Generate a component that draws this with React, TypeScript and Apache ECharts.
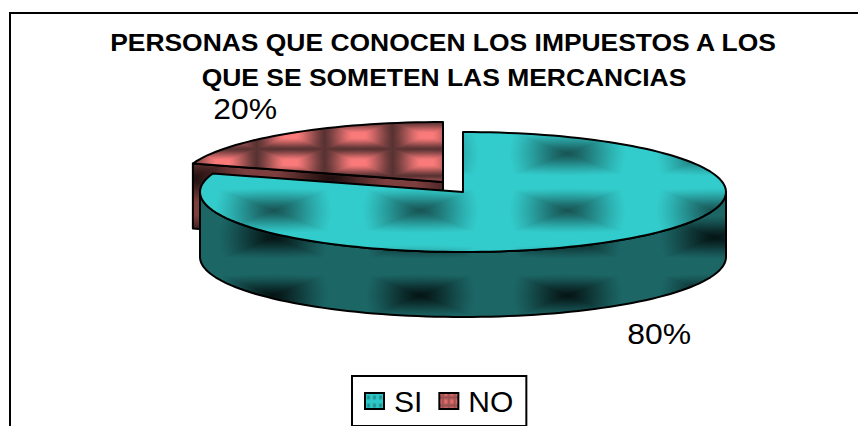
import React, { useEffect, useRef } from "react";
import * as echarts from "echarts";

const titleLines = ["PERSONAS QUE CONOCEN LOS IMPUESTOS A LOS", "QUE SE SOMETEN LAS MERCANCIAS"];
const categories = ["SI", "NO"];
const values = [80, 20];

type RGB = [number, number, number];

function tile(
  w: number, h: number, ox: number, oy: number,
  dark: RGB, bright: RGB, reach: number, inverted: boolean
) {
  const c = document.createElement("canvas");
  c.width = w;
  c.height = h;
  const ctx = c.getContext("2d")!;
  const img = ctx.createImageData(w, h);
  for (let y = 0; y < h; y++) {
    for (let x = 0; x < w; x++) {
      let dx = Math.abs(x - ox);
      let dy = Math.abs(y - oy);
      dx = Math.min(dx, w - dx);
      dy = Math.min(dy, h - dy);
      const nx = dx / (w / 2);
      const ny = dy / (h / 2);
      const v = 0.8 * Math.max(nx, ny) + 0.2 * Math.min(1, Math.hypot(nx, ny));
      const s = inverted ? Math.min(1, (1 - v) / reach) : Math.min(1, v / reach);
      const t = 0.7 * s + 0.3 * s * s * (3 - 2 * s);
      const i = (y * w + x) * 4;
      img.data[i] = dark[0] + (bright[0] - dark[0]) * t;
      img.data[i + 1] = dark[1] + (bright[1] - dark[1]) * t;
      img.data[i + 2] = dark[2] + (bright[2] - dark[2]) * t;
      img.data[i + 3] = 255;
    }
  }
  ctx.putImageData(img, 0, 0);
  return { image: c.toDataURL(), imageWidth: w, imageHeight: h, repeat: "repeat" } as any;
}

const CX = 463;
const CY = 192;
const RX = 263;
const RY = 60;
const DEPTH = 65;
const EXPLODE_X = -20;
const EXPLODE_Y = -10;
const FONT = "'Liberation Sans', Arial, sans-serif";

function arcPts(cx: number, cy: number, a0: number, a1: number) {
  const out: number[][] = [];
  const n = Math.max(2, Math.ceil(Math.abs(a1 - a0) / 2));
  for (let i = 0; i <= n; i++) {
    const a = ((a0 + ((a1 - a0) * i) / n) * Math.PI) / 180;
    out.push([cx + RX * Math.sin(a), cy - RY * Math.cos(a)]);
  }
  return out;
}

export default function App() {
  const ref = useRef<HTMLDivElement>(null);
  useEffect(() => {
    document.body.style.margin = "0";
    const chart = echarts.init(ref.current!, null, { renderer: "svg" });

    const tealTop = tile(147, 57, 126, 39, [24, 84, 84], [51, 204, 204], 0.8, false);
    const tealSide = tile(147, 58, 126, 5, [5, 20, 20], [28, 102, 102], 0.75, false);
    const redTop = tile(68, 27, 18, 0, [88, 50, 50], [250, 122, 122], 0.8, true);
    const redSide = tile(140, 60, 50, 58, [30, 14, 14], [125, 62, 62], 0.8, false);
    const tealKey = tile(6, 8, 3, 4, [30, 130, 130], [45, 200, 200], 0.8, false);
    const redKey = tile(6, 8, 0, 0, [150, 80, 80], [235, 110, 110], 0.8, true);

    const total = values.reduce((a, b) => a + b, 0);
    const siEnd = (values[0] / total) * 360;

    const outline = { stroke: "#000", lineWidth: 2, lineJoin: "round" };

    const renderSI = (_: any, api: any) => {
      const top = [[CX, CY], ...arcPts(CX, CY, 0, siEnd)];
      const front = arcPts(CX, CY, 90, 270);
      const wall = [
        ...front,
        ...front.slice().reverse().map((p) => [p[0], p[1] + DEPTH]),
      ];
      return {
        type: "group",
        children: [
          { type: "polygon", shape: { points: wall }, style: { fill: tealSide, ...outline } },
          { type: "polygon", shape: { points: top }, style: { fill: tealTop, ...outline } },
          {
            type: "text", x: 691, y: 348, scaleX: 1.1,
            style: { text: `${api.value(0)}%`, fontSize: 29, fontFamily: FONT, fill: "#000", align: "right", verticalAlign: "bottom" },
          },
        ],
      };
    };

    const renderNO = (_: any, api: any) => {
      const cx = CX + EXPLODE_X;
      const cy = CY + EXPLODE_Y;
      const top = [[cx, cy], ...arcPts(cx, cy, siEnd, 360)];
      const left = arcPts(cx, cy, siEnd, siEnd)[0];
      const wall = [left, [cx, cy], [cx, cy + DEPTH], [left[0], left[1] + DEPTH]];
      return {
        type: "group",
        children: [
          { type: "polygon", shape: { points: wall }, style: { fill: redSide, ...outline } },
          { type: "polygon", shape: { points: top }, style: { fill: redTop, ...outline } },
          {
            type: "text", x: 277, y: 123, scaleX: 1.1,
            style: { text: `${api.value(0)}%`, fontSize: 29, fontFamily: FONT, fill: "#000", align: "right", verticalAlign: "bottom" },
          },
        ],
      };
    };

    chart.setOption({
      animation: false,
      backgroundColor: "#fff",
      legend: {
        data: [
          { name: categories[0], icon: "rect", itemStyle: { color: tealKey, borderColor: "#000", borderWidth: 2 } },
          { name: categories[1], icon: "rect", itemStyle: { color: redKey, borderColor: "#000", borderWidth: 2 } },
        ],
        left: 352,
        top: 376,
        orient: "horizontal",
        itemWidth: 19,
        itemHeight: 16,
        itemGap: 16,
        padding: [10, 13, 10, 12],
        backgroundColor: "#fff",
        borderColor: "#000",
        borderWidth: 2,
        selectedMode: false,
        textStyle: { fontFamily: FONT, fontSize: 30, color: "#000", padding: [0, 0, 0, 5] },
      },
      graphic: [
        {
          type: "polyline",
          silent: true,
          z: -1,
          shape: { points: [[10, 430], [10, 13], [860, 13]] },
          style: { stroke: "#000", lineWidth: 2, fill: "none" },
        },
        {
          type: "text", x: 443, y: 55, scaleX: 1.15,
          style: { text: titleLines[0], fontFamily: FONT, fontWeight: "bold", fontSize: 23, fill: "#000", align: "center", verticalAlign: "bottom" },
        },
        {
          type: "text", x: 444, y: 90, scaleX: 1.15,
          style: { text: titleLines[1], fontFamily: FONT, fontWeight: "bold", fontSize: 23, fill: "#000", align: "center", verticalAlign: "bottom" },
        },
      ],
      series: [
        { type: "custom", name: categories[1], coordinateSystem: "none", data: [[values[1]]], renderItem: renderNO, itemStyle: { color: "#f87878" } },
        { type: "custom", name: categories[0], coordinateSystem: "none", data: [[values[0]]], renderItem: renderSI, itemStyle: { color: "#33cccc" } },
      ],
    });
    return () => chart.dispose();
  }, []);
  return <div ref={ref} style={{ position: "absolute", left: 0, top: 0, width: 858, height: 426 }} />;
}
